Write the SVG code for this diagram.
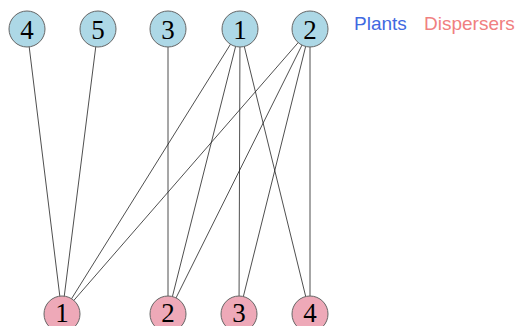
<svg xmlns="http://www.w3.org/2000/svg" width="517" height="326" viewBox="0 0 517 326">
<style>
.e{stroke:#222;stroke-width:0.8;fill:none}
.p circle{fill:#ADD8E6;stroke:#666;stroke-width:1}
.d circle{fill:#EEA9B8;stroke:#666;stroke-width:1}
.n text{font-family:"Liberation Serif",serif;font-size:27px;fill:#000;text-anchor:middle}
.lg{font-family:"Liberation Sans",Arial,sans-serif;font-size:19px}
</style>
<rect width="517" height="326" fill="#fff"/>
<g id="edges">
<line class="e" x1="27" y1="29" x2="62" y2="314"/>
<line class="e" x1="98" y1="29" x2="62" y2="314"/>
<line class="e" x1="168" y1="29" x2="168" y2="314"/>
<line class="e" x1="240" y1="29" x2="62" y2="314"/>
<line class="e" x1="240" y1="29" x2="168" y2="314"/>
<line class="e" x1="240" y1="29" x2="239" y2="314"/>
<line class="e" x1="240" y1="29" x2="310" y2="314"/>
<line class="e" x1="310" y1="29" x2="62" y2="314"/>
<line class="e" x1="310" y1="29" x2="168" y2="314"/>
<line class="e" x1="310" y1="29" x2="239" y2="314"/>
<line class="e" x1="310" y1="29" x2="310" y2="314"/>
</g>
<g id="plant4" class="n p"><circle cx="27" cy="29" r="18"/><text x="27" y="38.5">4</text></g>
<g id="plant5" class="n p"><circle cx="98" cy="29" r="18"/><text x="98" y="38.5">5</text></g>
<g id="plant3" class="n p"><circle cx="168" cy="29" r="18"/><text x="168" y="38.5">3</text></g>
<g id="plant1" class="n p"><circle cx="240" cy="29" r="18"/><text x="240" y="38.5">1</text></g>
<g id="plant2" class="n p"><circle cx="310" cy="29" r="18"/><text x="310" y="38.5">2</text></g>
<g id="disp1" class="n d"><circle cx="62" cy="314" r="18"/><text x="62" y="322">1</text></g>
<g id="disp2" class="n d"><circle cx="168" cy="314" r="18"/><text x="168" y="322">2</text></g>
<g id="disp3" class="n d"><circle cx="239" cy="314" r="18"/><text x="239" y="322">3</text></g>
<g id="disp4" class="n d"><circle cx="310" cy="314" r="18"/><text x="310" y="322">4</text></g>
<g id="legend">
<text class="lg" x="354" y="30" fill="#4169E1">Plants</text>
<text class="lg" x="424" y="30" fill="#F08080">Dispersers</text>
</g>
</svg>
